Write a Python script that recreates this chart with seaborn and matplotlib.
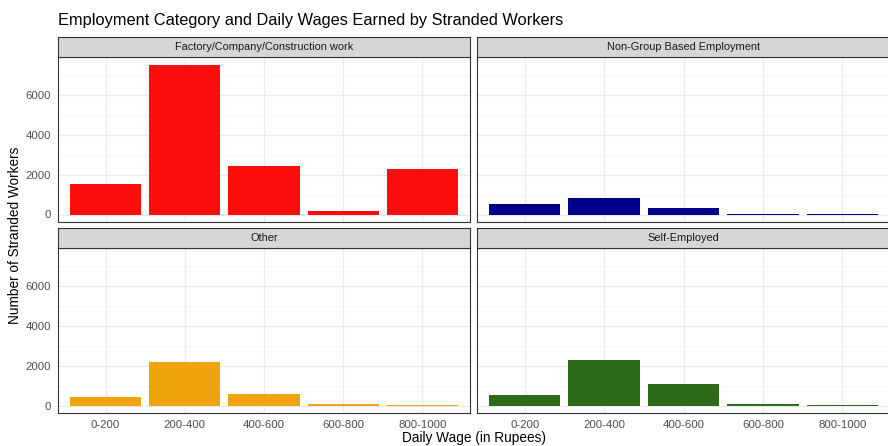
"""
Employment category vs daily wages of stranded workers, faceted bar chart.
"""
import matplotlib.pyplot as plt
import numpy as np
import pandas as pd
import seaborn as sns
from matplotlib.ticker import MultipleLocator

# values
wage_bands = ["0-200", "200-400", "400-600", "600-800", "800-1000"]
categories = [
    "Factory/Company/Construction work",
    "Non-Group Based Employment",
    "Other",
    "Self-Employed",
]
factory_counts = [1550, 7550, 2450, 200, 2300]
non_group_counts = [520, 820, 350, 40, 20]
other_counts = [450, 2200, 570, 100, 30]
self_employed_counts = [520, 2280, 1070, 100, 50]

colors = ["#FF0D0D", "#00008B", "#F0A30A", "#2D6A1A"]

all_counts = [factory_counts, non_group_counts, other_counts, self_employed_counts]
rows = []
for cat, counts in zip(categories, all_counts):
    for band, n in zip(wage_bands, counts):
        rows.append({"Category": cat, "Wage": band, "Workers": n})
df = pd.DataFrame(rows)

sns.set_style("white")
plt.rcParams["font.family"] = ["Liberation Sans", "DejaVu Sans"]

W, H = 888, 446
fig = plt.figure(figsize=(W / 100, H / 100), dpi=100)

# panel positions in pixels: (left, top, right, bottom)
panel_px = [
    (58, 57, 470, 222),
    (477, 57, 890, 222),
    (58, 248, 470, 413),
    (477, 248, 890, 413),
]
strip_h = 20

ymax = max(max(c) for c in all_counts)
ylim = (-0.05 * ymax, 1.05 * ymax)

for i, (cat, color) in enumerate(zip(categories, colors)):
    l, t, r, b = panel_px[i]
    ax = fig.add_axes([l / W, 1 - b / H, (r - l) / W, (b - t) / H])
    sub = df[df["Category"] == cat]
    sns.barplot(data=sub, x="Wage", y="Workers", order=wage_bands, color=color,
                saturation=1, width=0.9, ax=ax, errorbar=None, linewidth=0)
    ax.set_xlim(-0.6, len(wage_bands) - 0.4)
    ax.set_ylim(*ylim)
    ax.yaxis.set_major_locator(MultipleLocator(2000))
    ax.yaxis.set_minor_locator(MultipleLocator(1000))
    ax.set_axisbelow(True)
    ax.grid(True, which="major", color="#EBEBEB", linewidth=0.9)
    ax.grid(True, which="minor", axis="y", color="#F2F2F2", linewidth=0.6)
    for s in ax.spines.values():
        s.set_color("#333333")
        s.set_linewidth(0.8)
    ax.set_xlabel("")
    ax.set_ylabel("")
    ax.tick_params(axis="both", which="major", length=3, width=0.6, color="#333333",
                   labelsize=8.2, labelcolor="#4D4D4D", pad=2)
    ax.tick_params(axis="both", which="minor", length=0)
    if i % 2 == 1:
        ax.tick_params(axis="y", labelleft=False, length=0)
    if i < 2:
        ax.tick_params(axis="x", labelbottom=False, length=0)

    # facet strip
    sax = fig.add_axes([l / W, 1 - t / H, (r - l) / W, strip_h / H])
    sax.set_facecolor("#D6D6D6")
    sax.set_xticks([])
    sax.set_yticks([])
    for s in sax.spines.values():
        s.set_color("#333333")
        s.set_linewidth(0.8)
    sax.text(0.5, 0.5, cat, ha="center", va="center", fontsize=7.9, color="#1A1A1A",
             transform=sax.transAxes)

fig.text(58 / W, 1 - 20 / H, "Employment Category and Daily Wages Earned by Stranded Workers",
         ha="left", va="center", fontsize=11.8, color="black")
fig.text(474 / W, 1 - 438 / H, "Daily Wage (in Rupees)", ha="center", va="center",
         fontsize=9.8, color="black")
fig.text(15 / W, 1 - 235 / H, "Number of Stranded Workers", ha="center", va="center",
         rotation=90, fontsize=9.8, color="black")

fig.savefig("out.png", dpi=100)
